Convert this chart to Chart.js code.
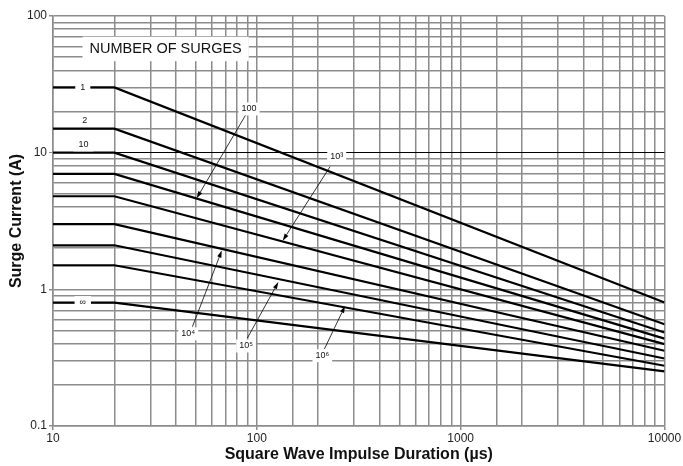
<!DOCTYPE html>
<html>
<head>
<meta charset="utf-8">
<script src="https://cdn.jsdelivr.net/npm/chart.js@4.4.1/dist/chart.umd.min.js"></script>
<style>
  html, body { margin: 0; padding: 0; background: #fff; }
  #wrap { width: 683px; height: 466px; }
</style>
</head>
<body>
<div id="wrap"><canvas id="c" width="683" height="466"></canvas></div>
<script>
// ---- data ----
const durations = [10, 20, 10000];                       // µs: flat part 10–20, then decay to 10000
const surgeLabels = ['1', '2', '10', '100', '10³', '10⁴', '10⁵', '10⁶', '∞'];
const currentFlat = [30, 15, 10, 7, 4.8, 3, 2.1, 1.5, 0.8];            // A at 10–20 µs
const currentAt10000 = [0.80, 0.556, 0.483, 0.436, 0.397, 0.355, 0.312, 0.276, 0.251]; // A at 10000 µs

const xTickLabels = ['10', '100', '1000', '10000'];
const yTickLabels = ['0.1', '1', '10', '100'];

// labels sitting on/above the curves at the left (data coords)
const inlineLabels = ['1', '2', '10', '∞'];
const inlineLabelPos = [[14.0, 30], [14.3, 17.3], [14.1, 11.4], [14.0, 0.8]];

// labels with arrows pointing to the curves (data coords)
const arrowLabels = ['100', '10³', '10⁴', '10⁵', '10⁶'];
const arrowLabelPos = [[91.6, 20.9], [246.6, 9.35], [46.1, 0.472], [88.5, 0.385], [209.6, 0.327]];
const arrowFrom = [[88.2, 18.9], [228.6, 7.9], [48.3, 0.533], [89.8, 0.439], [214.4, 0.365]];
const arrowTo = [[50.7, 4.64], [134, 2.27], [67.3, 1.92], [127.5, 1.13], [270.9, 0.756]];

const headerText = 'NUMBER OF SURGES';
const headerPos = [35.7, 57.4];

// ---- build datasets ----
const datasets = surgeLabels.map((lab, i) => ({
  label: lab,
  data: [
    { x: durations[0], y: currentFlat[i] },
    { x: durations[1], y: currentFlat[i] },
    { x: durations[2], y: currentAt10000[i] }
  ],
  borderColor: '#000',
  borderWidth: 2.2,
  pointRadius: 0,
  fill: false,
  tension: 0
}));

const FONT = '"Liberation Sans", Arial, Helvetica, sans-serif';

function boxedText(ctx, text, x, y, size, padX, padY) {
  ctx.font = size + 'px ' + FONT;
  const w = ctx.measureText(text).width;
  ctx.fillStyle = '#fff';
  ctx.fillRect(x - w / 2 - padX, y - size / 2 - padY, w + 2 * padX, size + 2 * padY);
  ctx.fillStyle = '#111';
  ctx.textAlign = 'center';
  ctx.textBaseline = 'middle';
  ctx.fillText(text, x, y);
}

const annotate = {
  id: 'annotate',
  afterDatasetsDraw(chart) {
    const ctx = chart.ctx;
    const xs = chart.scales.x, ys = chart.scales.y;
    const px = v => xs.getPixelForValue(v), py = v => ys.getPixelForValue(v);
    ctx.save();
    // header
    boxedText(ctx, headerText, px(headerPos[0]), py(headerPos[1]), 14.5, 7, 5);
    // inline labels
    inlineLabels.forEach((t, i) => {
      boxedText(ctx, t, px(inlineLabelPos[i][0]), py(inlineLabelPos[i][1]), 9, 5, 2);
    });
    // arrows
    arrowLabels.forEach((t, i) => {
      const x1 = px(arrowFrom[i][0]), y1 = py(arrowFrom[i][1]);
      const x2 = px(arrowTo[i][0]), y2 = py(arrowTo[i][1]);
      const ang = Math.atan2(y2 - y1, x2 - x1);
      const hl = 7, hw = 2.2;
      ctx.strokeStyle = '#000';
      ctx.lineWidth = 0.8;
      ctx.beginPath();
      ctx.moveTo(x1, y1);
      ctx.lineTo(x2 - hl * Math.cos(ang), y2 - hl * Math.sin(ang));
      ctx.stroke();
      ctx.fillStyle = '#000';
      ctx.beginPath();
      ctx.moveTo(x2, y2);
      ctx.lineTo(x2 - hl * Math.cos(ang) + hw * Math.sin(ang), y2 - hl * Math.sin(ang) - hw * Math.cos(ang));
      ctx.lineTo(x2 - hl * Math.cos(ang) - hw * Math.sin(ang), y2 - hl * Math.sin(ang) + hw * Math.cos(ang));
      ctx.closePath();
      ctx.fill();
      boxedText(ctx, t, px(arrowLabelPos[i][0]), py(arrowLabelPos[i][1]), 9, 3, 2);
    });
    ctx.restore();
  }
};

const isPow10 = v => Math.abs(Math.log10(v) - Math.round(Math.log10(v))) < 1e-9;
const GRID = '#8c8c8c';

new Chart(document.getElementById('c'), {
  type: 'line',
  data: { datasets },
  plugins: [annotate],
  options: {
    responsive: false,
    devicePixelRatio: 1,
    animation: false,
    layout: { padding: { top: 16, right: 18.5, left: 0, bottom: 0 } },
    plugins: { legend: { display: false }, tooltip: { enabled: false } },
    scales: {
      x: {
        type: 'logarithmic',
        min: 10, max: 10000,
        afterFit: s => { s.height = 40; },
        grid: {
          color: GRID,
          lineWidth: 1.5,
          tickLength: 4,
          tickColor: c => (c.tick && isPow10(c.tick.value)) ? GRID : 'rgba(0,0,0,0)'
        },
        border: { color: GRID, width: 1.5 },
        ticks: {
          autoSkip: false,
          maxRotation: 0,
          padding: 1,
          color: '#222',
          font: { family: FONT, size: 12 },
          callback: v => {
            const s = String(Math.round(v));
            return xTickLabels.includes(s) && isPow10(v) ? s : '';
          }
        },
        title: {
          display: true,
          text: 'Square Wave Impulse Duration (µs)',
          color: '#111',
          font: { family: FONT, size: 16, weight: 'bold' },
          padding: { top: 0, bottom: 1.5 }
        }
      },
      y: {
        type: 'logarithmic',
        min: 0.1, max: 100,
        afterFit: s => { s.width = 53; },
        grid: {
          color: c => (c.tick && Math.abs(c.tick.value - 10) < 1e-9) ? '#000' : GRID,
          lineWidth: c => (c.tick && Math.abs(c.tick.value - 10) < 1e-9) ? 1 : 1.5,
          tickLength: 4,
          tickColor: c => (c.tick && isPow10(c.tick.value)) ? GRID : 'rgba(0,0,0,0)'
        },
        border: { color: GRID, width: 1.5 },
        ticks: {
          autoSkip: false,
          padding: 2,
          color: '#222',
          font: { family: FONT, size: 12 },
          callback: v => {
            if (!isPow10(v)) return '';
            const s = v < 1 ? '0.1' : String(Math.round(v));
            return yTickLabels.includes(s) ? s : '';
          }
        },
        title: {
          display: true,
          text: 'Surge Current (A)',
          color: '#111',
          font: { family: FONT, size: 16, weight: 'bold' },
          padding: { top: 6.5, bottom: 0 }
        }
      }
    }
  }
});
</script>
</body>
</html>
